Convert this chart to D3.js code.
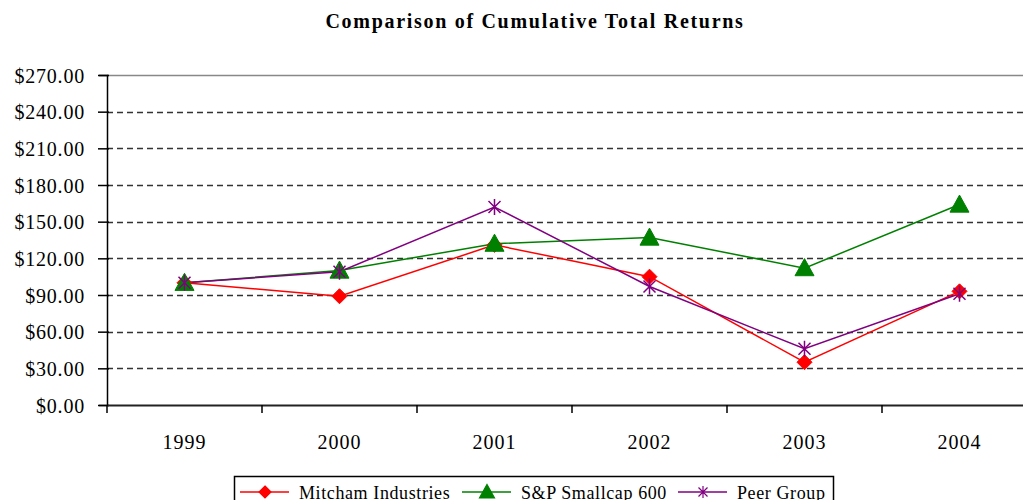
<!DOCTYPE html>
<html>
<head>
<meta charset="utf-8">
<script src="https://cdn.jsdelivr.net/npm/d3@7"></script>
<style>
  body { margin: 0; background: #fff; }
  svg { display: block; }
  text { font-family: "Liberation Serif", "DejaVu Serif", serif; fill: #000; }
</style>
</head>
<body>
<div id="chart"></div>
<script>
// chart data
var years = ["1999", "2000", "2001", "2002", "2003", "2004"];
var mitcham = [100, 89, 131, 105, 35, 93];
var sp600 = [100, 110, 132, 137, 112, 164];
var peer = [100, 109, 162, 97, 46, 91];
var yTicks = [0, 30, 60, 90, 120, 150, 180, 210, 240, 270];
var seriesNames = ["Mitcham Industries", "S&P Smallcap 600", "Peer Group"];

var width = 1023, height = 500;
var plotLeft = 107, plotTop = 75, plotRight = 1037, plotBottom = 405;

var svg = d3.select("#chart").append("svg")
    .attr("width", width)
    .attr("height", height);

var x = d3.scaleBand().domain(years).range([plotLeft, plotRight]);
var y = d3.scaleLinear().domain([0, 270]).range([plotBottom, plotTop]);

// title
svg.append("text")
    .attr("x", 535)
    .attr("y", 28)
    .attr("text-anchor", "middle")
    .style("font-size", "20px")
    .style("font-weight", "bold")
    .style("letter-spacing", "1.7px")
    .text("Comparison of Cumulative Total Returns");

// gridlines
svg.append("g")
    .selectAll("line")
    .data(yTicks.filter(function (d) { return d > 0 && d < 270; }))
    .enter().append("line")
    .attr("x1", plotLeft)
    .attr("x2", plotRight)
    .attr("y1", function (d) { return Math.round(y(d)) + 0.5; })
    .attr("y2", function (d) { return Math.round(y(d)) + 0.5; })
    .attr("stroke", "#333")
    .attr("stroke-width", 1.5)
    .attr("stroke-dasharray", "6,4");

// top border of plot area
svg.append("line")
    .attr("x1", plotLeft).attr("x2", plotRight)
    .attr("y1", plotTop + 0.5).attr("y2", plotTop + 0.5)
    .attr("stroke", "#888")
    .attr("stroke-width", 1.5);

// y axis
var yAxis = d3.axisLeft(y)
    .tickValues(yTicks)
    .tickSize(8)
    .tickPadding(14)
    .tickFormat(function (d) { return "$" + d.toFixed(2); });

var gy = svg.append("g")
    .attr("transform", "translate(" + plotLeft + ",0)")
    .call(yAxis);
gy.select(".domain").attr("stroke", "#000").attr("stroke-width", 1.5);
gy.selectAll(".tick line").attr("stroke", "#000").attr("stroke-width", 1.5).attr("x2", -9).attr("x1", 2);
gy.selectAll(".tick text")
    .style("font-family", "Liberation Serif, serif")
    .style("font-size", "20px")
    .style("letter-spacing", "0.8px")
    .attr("dy", "0.35em");

// x axis
var xAxis = d3.axisBottom(x).tickSize(0).tickPadding(30);
var gx = svg.append("g")
    .attr("transform", "translate(0," + plotBottom + ")")
    .call(xAxis);
gx.select(".domain").attr("stroke", "#222").attr("stroke-width", 2);
gx.selectAll(".tick text")
    .style("font-family", "Liberation Serif, serif")
    .style("font-size", "20px")
    .style("letter-spacing", "1px");

// tick marks at category boundaries
gx.selectAll(".bound")
    .data(years)
    .enter().append("line")
    .attr("class", "bound")
    .attr("x1", function (d) { return x(d); })
    .attr("x2", function (d) { return x(d); })
    .attr("y1", 0)
    .attr("y2", 8)
    .attr("stroke", "#000")
    .attr("stroke-width", 1.5);

// marker shapes
function diamond(s) {
    return "M0," + (-s) + "L" + s + ",0L0," + s + "L" + (-s) + ",0Z";
}
function triangle(s) {
    return "M0," + (-s) + "L" + s + "," + (s * 0.8) + "L" + (-s) + "," + (s * 0.8) + "Z";
}
function asterisk(s) {
    var d = s * 0.75;
    return "M0," + (-s) + "L0," + s +
        "M" + (-d) + "," + (-d) + "L" + d + "," + d +
        "M" + (-d) + "," + d + "L" + d + "," + (-d);
}

var series = [
    { name: seriesNames[0], values: mitcham, color: "#ff0000", shape: diamond(7.5), fill: true },
    { name: seriesNames[1], values: sp600, color: "#008000", shape: triangle(9.5), fill: true },
    { name: seriesNames[2], values: peer, color: "#800080", shape: asterisk(8), fill: false }
];

var line = d3.line()
    .x(function (d, i) { return x(years[i]) + x.bandwidth() / 2; })
    .y(function (d) { return y(d); });

series.forEach(function (s) {
    svg.append("path")
        .datum(s.values)
        .attr("d", line)
        .attr("fill", "none")
        .attr("stroke", s.color)
        .attr("stroke-width", 1.5);
});

series.forEach(function (s) {
    svg.append("g")
        .selectAll("path")
        .data(s.values)
        .enter().append("path")
        .attr("transform", function (d, i) {
            return "translate(" + (x(years[i]) + x.bandwidth() / 2) + "," + y(d) + ")";
        })
        .attr("d", s.shape)
        .attr("fill", s.fill ? s.color : "none")
        .attr("stroke", s.color)
        .attr("stroke-width", s.fill ? 1 : 1.5);
});

// legend
var legend = svg.append("g");
legend.append("rect")
    .attr("x", 234.5)
    .attr("y", 476.5)
    .attr("width", 599)
    .attr("height", 40)
    .attr("fill", "#fff")
    .attr("stroke", "#000")
    .attr("stroke-width", 1.5);

var legendPos = [240, 462, 678];
series.forEach(function (s, i) {
    var lx = legendPos[i];
    var g = legend.append("g").attr("transform", "translate(" + lx + ",492)");
    g.append("line")
        .attr("x1", 0).attr("x2", 49)
        .attr("y1", 0).attr("y2", 0)
        .attr("stroke", s.color)
        .attr("stroke-width", 1.5);
    g.append("path")
        .attr("transform", "translate(25,0)")
        .attr("d", i === 0 ? diamond(6) : i === 1 ? triangle(7.5) : asterisk(6))
        .attr("fill", s.fill ? s.color : "none")
        .attr("stroke", s.color)
        .attr("stroke-width", 1.2);
    g.append("text")
        .attr("x", 59)
        .attr("y", 7)
        .style("font-size", "18px")
        .style("letter-spacing", "0.6px")
        .text(s.name);
});
</script>
</body>
</html>
